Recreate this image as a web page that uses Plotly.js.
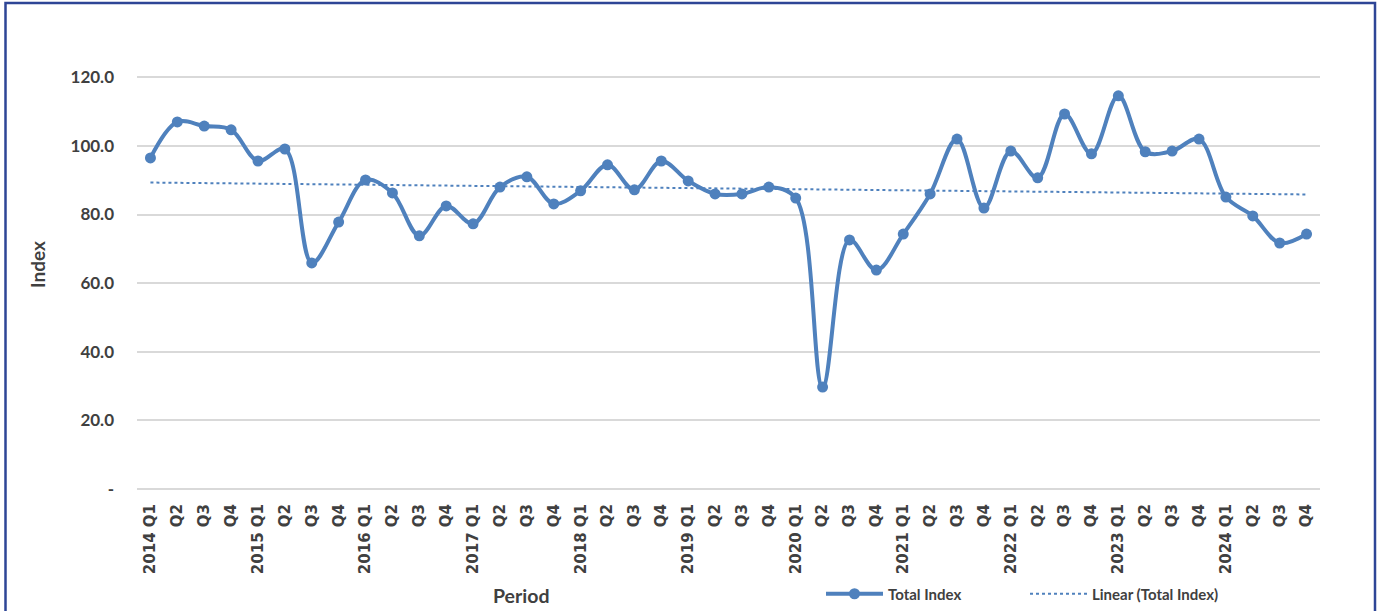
<!DOCTYPE html>
<html>
<head>
<meta charset="utf-8">
<script src="https://cdn.plot.ly/plotly-3.0.1.min.js"></script>
<style>
html,body{margin:0;padding:0;background:#fff;}
#chart{width:1383px;height:611px;}
</style>
</head>
<body>
<div id="chart"></div>
<script>
// Categories (periods)
const periods = [
  "2014 Q1","2014 Q2","2014 Q3","2014 Q4",
  "2015 Q1","2015 Q2","2015 Q3","2015 Q4",
  "2016 Q1","2016 Q2","2016 Q3","2016 Q4",
  "2017 Q1","2017 Q2","2017 Q3","2017 Q4",
  "2018 Q1","2018 Q2","2018 Q3","2018 Q4",
  "2019 Q1","2019 Q2","2019 Q3","2019 Q4",
  "2020 Q1","2020 Q2","2020 Q3","2020 Q4",
  "2021 Q1","2021 Q2","2021 Q3","2021 Q4",
  "2022 Q1","2022 Q2","2022 Q3","2022 Q4",
  "2023 Q1","2023 Q2","2023 Q3","2023 Q4",
  "2024 Q1","2024 Q2","2024 Q3","2024 Q4"
];
// Tick labels shown under each period
const tickLabels = [
  "2014 Q1","Q2","Q3","Q4",
  "2015 Q1","Q2","Q3","Q4",
  "2016 Q1","Q2","Q3","Q4",
  "2017 Q1","Q2","Q3","Q4",
  "2018 Q1","Q2","Q3","Q4",
  "2019 Q1","Q2","Q3","Q4",
  "2020 Q1","Q2","Q3","Q4",
  "2021 Q1","Q2","Q3","Q4",
  "2022 Q1","Q2","Q3","Q4",
  "2023 Q1","Q2","Q3","Q4",
  "2024 Q1","Q2","Q3","Q4"
];
// Total Index values
const totalIndex = [
  96.5, 107.0, 105.8, 104.7,
  95.6, 99.1, 65.9, 77.8,
  90.1, 86.3, 73.8, 82.5,
  77.3, 88.0, 91.0, 83.1,
  86.9, 94.5, 87.2, 95.6,
  89.8, 86.0, 86.0, 88.0,
  84.8, 29.7, 72.6, 63.8,
  74.3, 86.0, 102.0, 81.9,
  98.5, 90.7, 109.3, 97.7,
  114.6, 98.3, 98.5, 102.0,
  85.1, 79.6, 71.7, 74.3
];
// Y-axis ticks
const yTickVals = [0, 20, 40, 60, 80, 100, 120];
const yTickText = ["-", "20.0", "40.0", "60.0", "80.0", "100.0", "120.0"];

// Linear trend (least squares) of the Total Index, as Excel's "Linear" trendline
const n = totalIndex.length;
let sx = 0, sy = 0, sxy = 0, sxx = 0;
for (let i = 0; i < n; i++) { sx += i; sy += totalIndex[i]; sxy += i * totalIndex[i]; sxx += i * i; }
const slope = (n * sxy - sx * sy) / (n * sxx - sx * sx);
const intercept = (sy - slope * sx) / n;
const trend = totalIndex.map((_, i) => intercept + slope * i);

const blue = "#4F81BD";
const textCol = "#404040";
const FONT = "Lato, 'Open Sans', sans-serif";
const TICKFONT = "'DejaVu Sans', sans-serif";

// plot area pixels
const L = 137, R = 63, T = 43, B = 121, W = 1383, H = 611;
const pw = W - L - R, ph = H - T - B;
const px = x => (x - L) / pw;
const py = y => (H - B - y) / ph;

const traces = [
  {
    x: periods, y: totalIndex, name: "Total Index",
    type: "scatter", mode: "lines+markers",
    line: {color: blue, width: 4, shape: "spline", smoothing: 1},
    marker: {color: blue, size: 11},
    hoverinfo: "x+y"
  },
  {
    x: periods, y: trend, name: "Linear (Total Index)",
    type: "scatter", mode: "lines",
    line: {color: blue, width: 2, dash: "dot"},
    hoverinfo: "skip"
  }
];

const layout = {
  width: W, height: H,
  margin: {l: L, r: R, t: T, b: B, pad: 0, autoexpand: false},
  paper_bgcolor: "#ffffff", plot_bgcolor: "#ffffff",
  font: {family: FONT, color: textCol},
  showlegend: true,
  legend: {
    orientation: "h", x: px(821), y: py(594), xanchor: "left", yanchor: "middle",
    font: {family: FONT, size: 15, color: textCol, weight: "bold"},
    entrywidth: 132, entrywidthmode: "pixels",
    itemwidth: 57, tracegroupgap: 0, bgcolor: "rgba(0,0,0,0)"
  },
  xaxis: {
    type: "category", range: [-0.5, n - 0.5], automargin: false,
    tickmode: "array", tickvals: periods, ticktext: tickLabels,
    tickangle: -90, tickfont: {family: TICKFONT, size: 15, color: textCol, weight: "bold"},
    showgrid: false, zeroline: false, showline: false, ticks: "",
    ticklabelstandoff: 10, fixedrange: true
  },
  yaxis: {
    range: [-0.3, 130], automargin: false,
    tickmode: "array", tickvals: yTickVals, ticktext: yTickText,
    tickfont: {family: FONT, size: 17, color: textCol, weight: "bold"},
    showgrid: true, gridcolor: "#D9D9D9", gridwidth: 1.5,
    zeroline: true, zerolinecolor: "#D9D9D9", zerolinewidth: 1.5,
    showline: false, ticks: "", ticklabelstandoff: 22, fixedrange: true
  },
  annotations: [
    {text: "Index", xref: "paper", yref: "paper", x: px(37), y: py(265),
     showarrow: false, textangle: -90, xanchor: "center", yanchor: "middle",
     font: {family: FONT, size: 19, color: textCol, weight: "bold"}},
    {text: "Period", xref: "paper", yref: "paper", x: px(521), y: py(595),
     showarrow: false, xanchor: "center", yanchor: "middle",
     font: {family: FONT, size: 19.5, color: textCol, weight: "bold"}}
  ],
  shapes: [
    {type: "rect", xref: "paper", yref: "paper",
     x0: px(5.5), x1: px(1375), y0: py(640), y1: py(3),
     line: {color: "#2E4596", width: 2.5}, fillcolor: "rgba(0,0,0,0)", layer: "above"}
  ]
};

Plotly.newPlot("chart", traces, layout, {displayModeBar: false, responsive: false});
</script>
</body>
</html>
